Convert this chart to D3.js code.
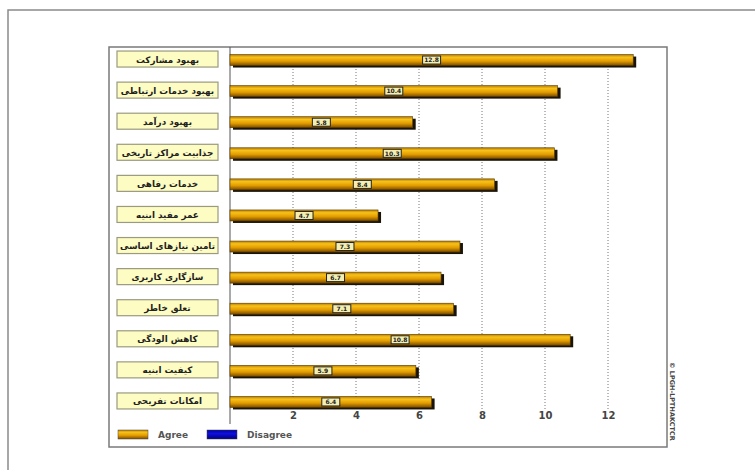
<!DOCTYPE html>
<html lang="fa">
	<head>
		<meta charset="utf-8">
		<title>Agree / Disagree</title>
		<script type="text/javascript" src="https://cdn.jsdelivr.net/npm/d3@7"></script>
		<style type="text/css">
			body{margin:0;background-color:#fff;}
			svg{display:block;}
			.cat{font-family:"DejaVu Sans";font-weight:bold;font-size:8.8px;fill:#222;}
			.val{font-family:"DejaVu Sans";font-weight:bold;font-size:6px;fill:#222;}
			.tick text{font-family:"DejaVu Sans";font-weight:bold;font-size:10px;fill:#444;}
			.leg{font-family:"DejaVu Sans";font-weight:bold;font-size:9px;fill:#555;}
		</style>
	</head>
	<body>
		<script type="text/javascript">

			// categories, top to bottom
			var categories = ["بهبود مشارکت", "بهبود خدمات ارتباطی", "بهبود درآمد", "جذابیت مراکز تاریخی",
				"خدمات رفاهی", "عمر مفید ابنیه", "تامین نیازهای اساسی", "سازگاری کاربری",
				"تعلق خاطر", "کاهش الودگی", "کیفیت ابنیه", "امکانات تفریحی"];
			var agree = [12.8, 10.4, 5.8, 10.3, 8.4, 4.7, 7.3, 6.7, 7.1, 10.8, 5.9, 6.4];
			var tickValues = [2, 4, 6, 8, 10, 12];
			var legendLabels = ["Agree", "Disagree"];

			var w = 755;
			var h = 470;

			var svg = d3.select("body")
				.append("svg")
				.attr("width", w)
				.attr("height", h);

			var defs = svg.append("defs");
			var gold = defs.append("linearGradient")
				.attr("id", "gold")
				.attr("x1", 0).attr("y1", 0).attr("x2", 0).attr("y2", 1);
			gold.append("stop").attr("offset", "0%").attr("stop-color", "#b87c00");
			gold.append("stop").attr("offset", "25%").attr("stop-color", "#f7c21a");
			gold.append("stop").attr("offset", "60%").attr("stop-color", "#e39c00");
			gold.append("stop").attr("offset", "100%").attr("stop-color", "#7a4c00");
			var blue = defs.append("linearGradient")
				.attr("id", "blue")
				.attr("x1", 0).attr("y1", 0).attr("x2", 0).attr("y2", 1);
			blue.append("stop").attr("offset", "0%").attr("stop-color", "#0000a0");
			blue.append("stop").attr("offset", "40%").attr("stop-color", "#1010e0");
			blue.append("stop").attr("offset", "100%").attr("stop-color", "#00007a");

			// frames
			svg.append("rect")
				.attr("x", 8).attr("y", 10)
				.attr("width", 800).attr("height", 500)
				.style("fill", "none").style("stroke", "#8a8a8a").style("stroke-width", 1.5);
			svg.append("rect")
				.attr("x", 109).attr("y", 47)
				.attr("width", 558).attr("height", 400)
				.style("fill", "none").style("stroke", "#7a7a7a").style("stroke-width", 1.5);

			var x = d3.scaleLinear()
				.domain([0, 12])
				.range([230, 608]);

			var y = d3.scaleBand()
				.domain(categories)
				.range([44.5, 417.5]);

			var barH = 11;

			// dotted grid
			svg.selectAll("line.grid")
				.data(tickValues)
				.enter()
				.append("line")
				.attr("class", "grid")
				.attr("x1", function(d) { return x(d); })
				.attr("x2", function(d) { return x(d); })
				.attr("y1", 66)
				.attr("y2", 410)
				.style("stroke", "#777")
				.style("stroke-dasharray", "1,2");

			// separator between labels and bars
			svg.append("line")
				.attr("x1", 230).attr("x2", 230)
				.attr("y1", 47).attr("y2", 424)
				.style("stroke", "#555");

			// axis
			var axis = d3.axisBottom(x)
				.tickValues(tickValues)
				.tickSize(0)
				.tickPadding(0);
			svg.append("g")
				.attr("transform", "translate(0,412)")
				.call(axis)
				.call(function(g) { g.select(".domain").remove(); });

			// label boxes
			var lab = svg.selectAll("g.lab")
				.data(categories)
				.enter()
				.append("g")
				.attr("class", "lab")
				.attr("transform", function(d) { return "translate(0," + (y(d) + y.bandwidth() / 2 - 1) + ")"; });
			lab.append("rect")
				.attr("x", 117).attr("y", -8)
				.attr("width", 101).attr("height", 16)
				.style("fill", "#fdfcc2")
				.style("stroke", "#9a9a80")
				.style("stroke-width", 1.2);
			lab.append("text")
				.attr("class", "cat")
				.attr("x", 167.5).attr("y", 3.5)
				.attr("text-anchor", "middle")
				.attr("direction", "rtl")
				.text(function(d) { return d; });

			// bars
			var bars = svg.selectAll("g.bar")
				.data(agree)
				.enter()
				.append("g")
				.attr("class", "bar")
				.attr("transform", function(d, i) { return "translate(0," + (y(categories[i]) + y.bandwidth() / 2 - barH / 2) + ")"; });
			bars.append("rect")
				.attr("x", x(0) + 3).attr("y", 2)
				.attr("width", function(d) { return x(d) - x(0); })
				.attr("height", barH)
				.style("fill", "#1a1408");
			bars.append("rect")
				.attr("x", x(0)).attr("y", 0)
				.attr("width", function(d) { return x(d) - x(0); })
				.attr("height", barH)
				.style("fill", "url(#gold)")
				.style("stroke", "#5a3a00")
				.style("stroke-width", 0.6);
			bars.append("rect")
				.attr("x", function(d) { return (x(0) + x(d)) / 2 - 9; })
				.attr("y", 1.5)
				.attr("width", 18).attr("height", 8)
				.style("fill", "#f4efb0")
				.style("stroke", "#222")
				.style("stroke-width", 1);
			bars.append("text")
				.attr("class", "val")
				.attr("x", function(d) { return (x(0) + x(d)) / 2; })
				.attr("y", 7.8)
				.attr("text-anchor", "middle")
				.text(function(d) { return d.toFixed(1); });

			// legend
			var legX = [118, 207];
			var leg = svg.selectAll("g.leg")
				.data(legendLabels)
				.enter()
				.append("g")
				.attr("transform", function(d, i) { return "translate(" + legX[i] + ",430)"; });
			leg.append("rect")
				.attr("width", 30).attr("height", 9)
				.style("fill", function(d, i) { return i == 0 ? "url(#gold)" : "url(#blue)"; })
				.style("stroke", "#444")
				.style("stroke-width", 0.5);
			leg.append("text")
				.attr("class", "leg")
				.attr("x", 40).attr("y", 8)
				.text(function(d) { return d; });

			// vertical credit
			svg.append("text")
				.attr("transform", "translate(670,362) rotate(90)")
				.style("font-family", "DejaVu Sans")
				.style("font-weight", "bold")
				.style("font-size", "6.5px")
				.style("fill", "#444")
				.text("© LPGH-LPTHAKCTCR");

		</script>
	</body>
</html>
